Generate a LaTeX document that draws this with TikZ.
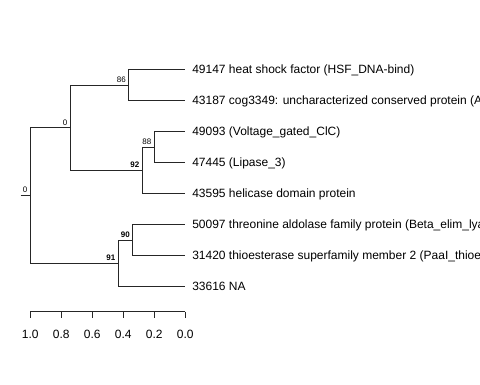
\documentclass[tikz,border=0pt]{standalone}
\usepackage{fontspec}
\setmainfont{Liberation Sans}
\usepackage{tikz}

\begin{document}
\begin{tikzpicture}
  [x=1pt,y=-1pt,line width=0.9pt,
   tip/.style={anchor=base west,inner sep=0pt,font=\fontsize{12}{14}\selectfont},
   boot/.style={anchor=south east,inner sep=1pt,xshift=-1.5pt,yshift=1pt,font=\fontsize{8}{9}\selectfont},
   bboot/.style={boot,font=\fontsize{8}{9}\selectfont\bfseries},
   ticklab/.style={anchor=base,inner sep=0pt,font=\fontsize{12}{14}\selectfont}]

  \useasboundingbox (0,0) rectangle (480,384);
  \clip (0,0) rectangle (480,384);

  %%%%%%%%%%%%%%%%%%%%%% TIPS %%%%%%%%%%%%%%%%%%%%%%

   \coordinate(t1) at (185.3,69.5);
   \coordinate(t2) at (185.3,100.5);
   \coordinate(t3) at (185.3,131.5);
   \coordinate(t4) at (185.3,162.5);
   \coordinate(t5) at (185.3,193.5);
   \coordinate(t6) at (185.3,224.5);
   \coordinate(t7) at (185.3,255.5);
   \coordinate(t8) at (185.3,286.5);

   \node[tip](lab1) at ([xshift=6.5pt,yshift=-4.3pt]t1) {49147 heat shock factor (HSF\_DNA-bind)};
   \node[tip](lab2) at ([xshift=6.5pt,yshift=-4.3pt]t2) {43187 cog3349: uncharacterized conserved protein (AF2331)};
   \node[tip](lab3) at ([xshift=6.5pt,yshift=-4.3pt]t3) {49093 (Voltage\_gated\_ClC)};
   \node[tip](lab4) at ([xshift=6.5pt,yshift=-4.3pt]t4) {47445 (Lipase\_3)};
   \node[tip](lab5) at ([xshift=6.5pt,yshift=-4.3pt]t5) {43595 helicase domain protein};
   \node[tip](lab6) at ([xshift=6.5pt,yshift=-4.3pt]t6) {50097 threonine aldolase family protein (Beta\_elim\_lyase)};
   \node[tip](lab7) at ([xshift=6.5pt,yshift=-4.3pt]t7) {31420 thioesterase superfamily member 2 (PaaI\_thioesterase)};
   \node[tip](lab8) at ([xshift=6.5pt,yshift=-4.3pt]t8) {33616 NA};

  %%%%%%%%%%%%%%%%%%%%%% INNER NODES %%%%%%%%%%%%%%%%%%%%%%

   \coordinate(n86)  at (128.7,85);
   \coordinate(n88)  at (154.3,147);
   \coordinate(n92)  at (142.3,170.25);
   \coordinate(nA)   at (70.3,127.6);
   \coordinate(n90)  at (132.7,240);
   \coordinate(n91)  at (118.3,263.25);
   \coordinate(root) at (30.3,195.4);
   \coordinate(stub) at (20.7,195.4);

   \foreach \fromN/\toN in {root/nA,root/n91,nA/n86,nA/n92,n86/t1,n86/t2,n92/n88,n92/t5,n88/t3,n88/t4,n91/n90,n91/t8,n90/t6,n90/t7}
    \draw[black!85] (\fromN) |- (\toN);

   \draw[black!85] (stub) -- (root);

   \node[boot]  at (root) {0};
   \node[boot]  at (nA)   {0};
   \node[boot]  at (n86)  {86};
   \node[boot]  at (n88)  {88};
   \node[bboot] at (n92)  {92};
   \node[bboot] at (n90)  {90};
   \node[bboot] at (n91)  {91};

  %%%%%%%%%%%%%%%%%%%%%% AXIS %%%%%%%%%%%%%%%%%%%%%%

   \draw[black!85] (30.3,311.7) -- (185.3,311.7);
   \foreach \h/\lab in {1/1.0,0.8/0.8,0.6/0.6,0.4/0.4,0.2/0.2,0/0.0}
    {\draw[black!85] (185.3-155*\h,311.7) -- (185.3-155*\h,318.3);
     \node[ticklab] at (185.3-155*\h,338.3) {\lab};}

\end{tikzpicture}
\end{document}
